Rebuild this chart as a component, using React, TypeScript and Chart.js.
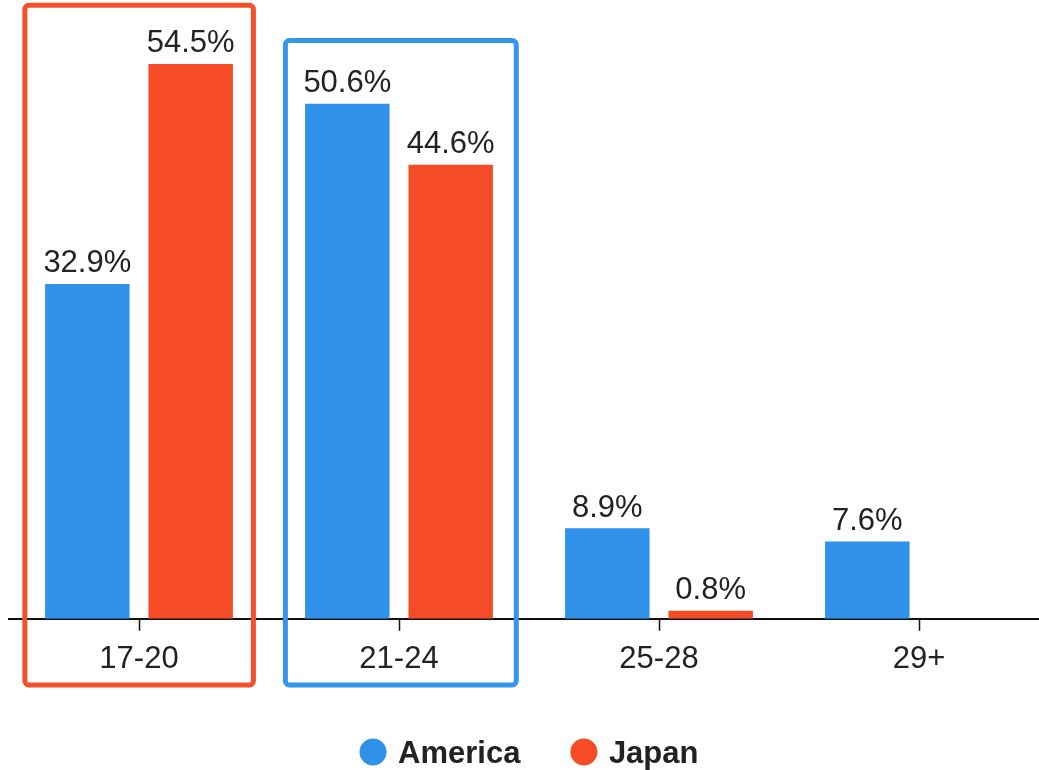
import React, { useEffect, useRef } from "react";
import { Chart, registerables } from "chart.js";

Chart.register(...registerables);

const categories = ["17-20", "21-24", "25-28", "29+"];
const americaValues = [32.9, 50.6, 8.9, 7.6];
const japanValues: (number | null)[] = [54.5, 44.6, 0.8, null];
const seriesNames = ["America", "Japan"];
const seriesColors = ["#2F91E9", "#F54C27"];

// highlight boxes: category index, left/right offset in category units, top/bottom in value units
const highlightCategory = [0, 1];
const highlightLeft = [-0.439, -0.437];
const highlightRight = [0.44, 0.451];
const highlightTop = [60.26, 56.8];
const highlightBottom = [-6.5, -6.5];
const highlightColors = ["#F4502B", "#3496EA"];

const FONT = "'Liberation Sans', Arial, Helvetica, sans-serif";
const TEXT_COLOR = "#222222";

function roundRect(ctx: CanvasRenderingContext2D, x: number, y: number, w: number, h: number, r: number) {
  ctx.beginPath();
  ctx.moveTo(x + r, y);
  ctx.lineTo(x + w - r, y);
  ctx.arcTo(x + w, y, x + w, y + r, r);
  ctx.lineTo(x + w, y + h - r);
  ctx.arcTo(x + w, y + h, x + w - r, y + h, r);
  ctx.lineTo(x + r, y + h);
  ctx.arcTo(x, y + h, x, y + h - r, r);
  ctx.lineTo(x, y + r);
  ctx.arcTo(x, y, x + r, y, r);
  ctx.closePath();
}

const overlayPlugin = {
  id: "overlayPlugin",
  afterDatasetsDraw(chart: any) {
    const ctx: CanvasRenderingContext2D = chart.ctx;
    ctx.save();
    ctx.font = `31px ${FONT}`;
    ctx.fillStyle = TEXT_COLOR;
    ctx.textAlign = "center";
    ctx.textBaseline = "alphabetic";
    chart.data.datasets.forEach((ds: any, di: number) => {
      const meta = chart.getDatasetMeta(di);
      meta.data.forEach((bar: any, i: number) => {
        const v = ds.data[i];
        if (v === null || v === undefined) return;
        ctx.fillText(`${v.toFixed(1)}%`, bar.x, bar.y - 11.6);
      });
    });
    ctx.restore();
  },
  afterDraw(chart: any) {
    const ctx: CanvasRenderingContext2D = chart.ctx;
    const xs = chart.scales.x;
    const ys = chart.scales.y;
    const catW = xs.getPixelForValue(1) - xs.getPixelForValue(0);
    ctx.save();
    highlightCategory.forEach((ci, k) => {
      const c = xs.getPixelForValue(ci);
      const l = c + highlightLeft[k] * catW;
      const r = c + highlightRight[k] * catW;
      const t = ys.getPixelForValue(highlightTop[k]);
      const b = ys.getPixelForValue(highlightBottom[k]);
      ctx.strokeStyle = highlightColors[k];
      ctx.lineWidth = 5;
      roundRect(ctx, l, t, r - l, b - t, 4);
      ctx.stroke();
    });

    // legend
    ctx.font = `bold 31px ${FONT}`;
    ctx.textBaseline = "alphabetic";
    ctx.textAlign = "left";
    const radius = 13.5;
    const textGap = 25;
    const itemGap = 50;
    const widths = seriesNames.map((n) => ctx.measureText(n).width);
    let total = 0;
    widths.forEach((w, i) => {
      total += radius + textGap + w;
      if (i < widths.length - 1) total += itemGap;
    });
    const area = chart.chartArea;
    let x = (area.left + area.right) / 2 - total / 2;
    const cy = 752;
    seriesNames.forEach((n, i) => {
      const cx = x + radius;
      ctx.fillStyle = seriesColors[i];
      ctx.beginPath();
      ctx.arc(cx, cy, radius, 0, Math.PI * 2);
      ctx.fill();
      ctx.fillStyle = TEXT_COLOR;
      ctx.fillText(n, cx + textGap, cy + 11.3);
      x = cx + textGap + widths[i] + itemGap;
    });
    ctx.restore();
  },
};

export default function App() {
  const canvasRef = useRef<HTMLCanvasElement | null>(null);

  useEffect(() => {
    if (!canvasRef.current) return;
    const chart = new Chart(canvasRef.current, {
      type: "bar",
      data: {
        labels: categories,
        datasets: [
          {
            label: seriesNames[0],
            data: americaValues,
            backgroundColor: seriesColors[0],
            categoryPercentage: 0.795,
            barPercentage: 0.817,
          },
          {
            label: seriesNames[1],
            data: japanValues,
            backgroundColor: seriesColors[1],
            categoryPercentage: 0.795,
            barPercentage: 0.817,
          },
        ],
      },
      options: {
        animation: false,
        responsive: false,
        maintainAspectRatio: false,
        devicePixelRatio: 1,
        layout: { padding: { left: 9, right: 0, top: 8, bottom: 82 } },
        plugins: {
          legend: { display: false },
          tooltip: { enabled: false },
        },
        scales: {
          x: {
            offset: true,
            grid: {
              display: true,
              drawOnChartArea: false,
              drawTicks: true,
              tickLength: 12,
              tickWidth: 1.5,
              tickColor: "#111111",
              offset: false,
            },
            border: { display: true, color: "#111111", width: 2 },
            ticks: {
              color: TEXT_COLOR,
              font: { family: FONT, size: 31 },
              padding: 10,
              maxRotation: 0,
              autoSkip: false,
            },
          },
          y: {
            display: false,
            min: 0,
            max: 60,
          },
        },
      },
      plugins: [overlayPlugin],
    });
    return () => chart.destroy();
  }, []);

  return (
    <div
      style={{
        position: "absolute",
        top: 0,
        left: 0,
        width: 1039,
        height: 770,
        overflow: "hidden",
        background: "#ffffff",
      }}
    >
      <canvas ref={canvasRef} width={1049} height={770} style={{ width: 1049, height: 770, display: "block" }} />
    </div>
  );
}
